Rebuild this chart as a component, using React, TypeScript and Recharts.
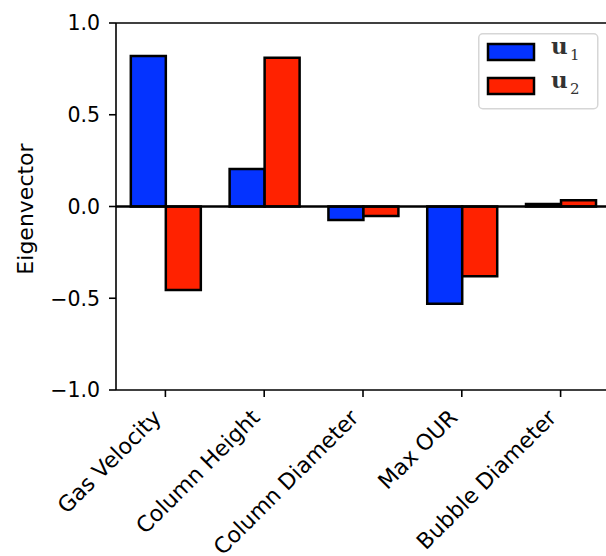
import React from "react";
import { BarChart, Bar, XAxis, YAxis, ReferenceLine, Label } from "recharts";

const categories = ["Gas Velocity", "Column Height", "Column Diameter", "Max OUR", "Bubble Diameter"];
const u1Values = [0.82, 0.205, -0.073, -0.53, 0.013];
const u2Values = [-0.455, 0.81, -0.052, -0.38, 0.034];
const yTicks = [-1, -0.5, 0, 0.5, 1];
const seriesKeys = ["u1", "u2"];
const seriesSubs = ["1", "2"];
const seriesColors = ["#0433ff", "#ff2200"];

const data = categories.map((name, i) => ({ name, u1: u1Values[i], u2: u2Values[i] }));

const FONT = "'DejaVu Sans', sans-serif";

const fmtY = (v: number) => (v < 0 ? "\u2212" + Math.abs(v).toFixed(1) : v.toFixed(1));

const XTick = (props: any) => {
  const { x, y, payload } = props;
  return (
    <g transform={`translate(${x},${y})`}>
      <text
        x={-3}
        y={20}
        transform="rotate(-45, -3, 20)"
        textAnchor="end"
        fontSize={22}
        fontFamily={FONT}
        fill="#000"
      >
        {payload.value}
      </text>
    </g>
  );
};

const LegendBox = () => (
  <svg width={121} height={77} style={{ position: "absolute", left: 478, top: 33 }}>
    <rect x={0.75} y={0.75} width={119} height={75} rx={4} ry={4} fill="rgba(255,255,255,0.8)" stroke="#d6d6d6" strokeWidth={1.5} />
    {seriesKeys.map((k, i) => {
      const top = 11 + i * 34;
      return (
        <g key={k}>
          <rect x={10} y={top} width={46} height={16} fill={seriesColors[i]} stroke="#000" strokeWidth={2.5} />
          <text x={73} y={top + 10} fontFamily="'DejaVu Serif', serif" fontWeight="bold" fontSize={23} fill="#333">
            u
          </text>
          <text x={92} y={top + 16} fontFamily="'DejaVu Serif', serif" fontSize={15} fill="#333">
            {seriesSubs[i]}
          </text>
        </g>
      );
    })}
  </svg>
);

export default function App() {
  return (
    <div style={{ position: "fixed", left: 0, top: 0, width: 606, height: 556, overflow: "hidden", background: "#fff" }}>
      <BarChart
        width={616}
        height={556}
        data={data}
        margin={{ top: 23, right: 6, bottom: 0, left: 0 }}
        barCategoryGap="15%"
        barGap={0}
      >
        <XAxis
          dataKey="name"
          height={166}
          interval={0}
          tick={<XTick />}
          tickSize={7}
          tickMargin={2}
          axisLine={{ stroke: "#000", strokeWidth: 1.6 }}
          tickLine={{ stroke: "#000", strokeWidth: 1.6 }}
        />
        <YAxis
          width={116}
          domain={[-1, 1]}
          ticks={yTicks}
          type="number"
          tickFormatter={fmtY}
          tickSize={7}
          tickMargin={9}
          tick={{ fontSize: 20.5, fontFamily: FONT, fill: "#000" }}
          axisLine={{ stroke: "#000", strokeWidth: 1.6 }}
          tickLine={{ stroke: "#000", strokeWidth: 1.6 }}
          allowDataOverflow
        >
          <Label
            content={() => (
              <text
                x={33}
                y={209}
                transform="rotate(-90, 33, 209)"
                textAnchor="middle"
                fontSize={22}
                fontFamily={FONT}
                fill="#000"
              >
                Eigenvector
              </text>
            )}
          />
        </YAxis>
        <Bar dataKey="u1" name="u1" fill={seriesColors[0]} stroke="#000" strokeWidth={2.5} isAnimationActive={false} />
        <Bar dataKey="u2" name="u2" fill={seriesColors[1]} stroke="#000" strokeWidth={2.5} isAnimationActive={false} />
        <ReferenceLine y={0} stroke="#000" strokeWidth={2.5} />
        <ReferenceLine y={1} stroke="#000" strokeWidth={1.6} />
      </BarChart>
      <LegendBox />
    </div>
  );
}
